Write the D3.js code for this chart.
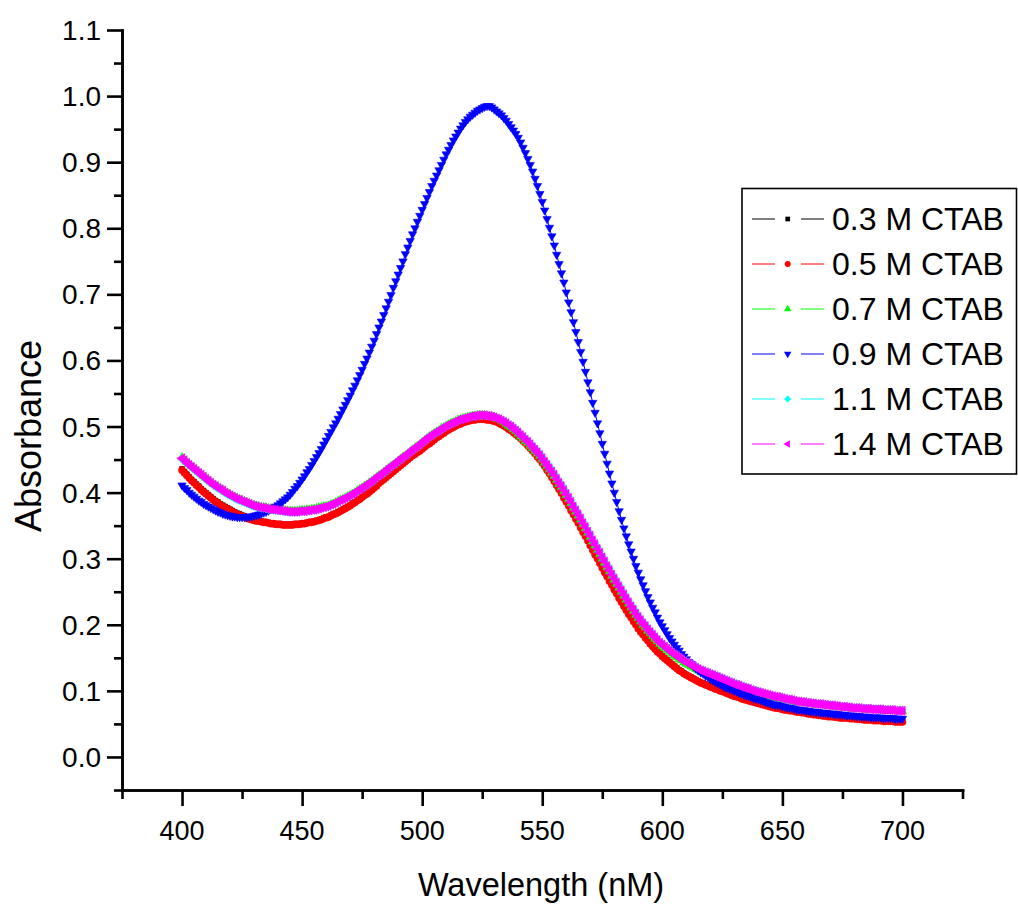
<!DOCTYPE html>
<html>
<head>
<meta charset="utf-8">
<script src="https://cdn.jsdelivr.net/npm/d3@7"></script>
<style>
  html, body { margin: 0; padding: 0; background: #fff; }
  svg { display: block; }
  text { font-family: "Liberation Sans", Arial, sans-serif; fill: #000; }
</style>
</head>
<body>
<svg id="chart" width="1018" height="909"></svg>
<script>
// UV-Vis spectra, 400–700 nm sampled every 1 nm
const wavelengths = d3.range(400, 701);

const abs03 = [
  0.436,0.432,0.428,0.424,0.420,0.417,0.413,0.410,0.406,0.403,
  0.400,0.397,0.394,0.391,0.388,0.386,0.383,0.381,0.379,0.377,
  0.375,0.373,0.371,0.369,0.368,0.366,0.365,0.363,0.362,0.361,
  0.360,0.359,0.358,0.357,0.356,0.356,0.355,0.354,0.354,0.353,
  0.353,0.353,0.352,0.352,0.352,0.352,0.352,0.353,0.353,0.353,
  0.354,0.354,0.355,0.356,0.356,0.357,0.358,0.359,0.360,0.362,
  0.363,0.364,0.366,0.368,0.369,0.371,0.373,0.375,0.377,0.379,
  0.381,0.384,0.386,0.389,0.391,0.394,0.397,0.399,0.402,0.405,
  0.408,0.411,0.415,0.418,0.421,0.424,0.427,0.430,0.433,0.436,
  0.439,0.442,0.445,0.448,0.451,0.454,0.457,0.459,0.462,0.464,
  0.467,0.470,0.473,0.475,0.478,0.481,0.484,0.486,0.489,0.491,
  0.494,0.496,0.498,0.500,0.502,0.504,0.505,0.507,0.508,0.509,
  0.510,0.511,0.511,0.512,0.512,0.512,0.512,0.511,0.511,0.510,
  0.509,0.508,0.506,0.504,0.502,0.500,0.497,0.495,0.492,0.489,
  0.486,0.483,0.479,0.476,0.472,0.468,0.464,0.460,0.455,0.451,
  0.446,0.441,0.435,0.430,0.424,0.418,0.412,0.406,0.400,0.393,
  0.387,0.381,0.374,0.368,0.361,0.355,0.348,0.341,0.335,0.328,
  0.321,0.314,0.307,0.301,0.294,0.287,0.280,0.274,0.267,0.261,
  0.254,0.248,0.241,0.235,0.229,0.223,0.217,0.212,0.206,0.201,
  0.195,0.190,0.186,0.181,0.177,0.172,0.168,0.164,0.160,0.157,
  0.153,0.150,0.147,0.144,0.141,0.138,0.135,0.132,0.130,0.127,
  0.125,0.123,0.121,0.119,0.117,0.115,0.113,0.112,0.110,0.109,
  0.107,0.106,0.104,0.103,0.101,0.100,0.099,0.097,0.096,0.094,
  0.093,0.092,0.091,0.089,0.088,0.087,0.086,0.085,0.084,0.083,
  0.082,0.081,0.080,0.079,0.078,0.077,0.076,0.075,0.075,0.074,
  0.073,0.072,0.072,0.071,0.071,0.070,0.069,0.069,0.068,0.068,
  0.067,0.066,0.066,0.065,0.065,0.064,0.064,0.063,0.063,0.062,
  0.062,0.062,0.061,0.061,0.060,0.060,0.060,0.060,0.059,0.059,
  0.059,0.058,0.058,0.058,0.057,0.057,0.057,0.057,0.056,0.056,
  0.056,0.056,0.055,0.055,0.055,0.055,0.055,0.054,0.054,0.054,
  0.054
];

const abs05 = [
  0.434,0.430,0.426,0.422,0.418,0.415,0.411,0.408,0.404,0.401,
  0.398,0.395,0.392,0.389,0.386,0.384,0.381,0.379,0.377,0.375,
  0.373,0.371,0.369,0.367,0.366,0.364,0.363,0.361,0.360,0.359,
  0.358,0.357,0.357,0.356,0.355,0.355,0.354,0.353,0.353,0.352,
  0.352,0.352,0.351,0.351,0.351,0.351,0.351,0.352,0.352,0.352,
  0.353,0.353,0.354,0.355,0.355,0.356,0.357,0.358,0.359,0.361,
  0.362,0.363,0.365,0.367,0.368,0.370,0.372,0.374,0.376,0.378,
  0.380,0.383,0.385,0.388,0.390,0.393,0.396,0.398,0.401,0.404,
  0.407,0.410,0.414,0.417,0.420,0.423,0.426,0.429,0.432,0.435,
  0.438,0.441,0.444,0.447,0.450,0.453,0.456,0.458,0.461,0.463,
  0.466,0.469,0.472,0.474,0.477,0.480,0.483,0.485,0.488,0.490,
  0.493,0.495,0.497,0.499,0.501,0.503,0.504,0.506,0.507,0.508,
  0.509,0.510,0.510,0.511,0.511,0.511,0.511,0.510,0.510,0.509,
  0.508,0.507,0.505,0.503,0.501,0.499,0.496,0.494,0.491,0.488,
  0.485,0.482,0.478,0.475,0.471,0.467,0.463,0.459,0.454,0.450,
  0.445,0.440,0.434,0.429,0.423,0.417,0.411,0.405,0.399,0.392,
  0.386,0.380,0.373,0.367,0.360,0.354,0.347,0.340,0.334,0.327,
  0.320,0.313,0.306,0.300,0.293,0.286,0.279,0.273,0.266,0.260,
  0.253,0.247,0.240,0.234,0.228,0.222,0.216,0.211,0.205,0.200,
  0.194,0.189,0.185,0.180,0.176,0.171,0.167,0.163,0.159,0.156,
  0.152,0.149,0.146,0.143,0.140,0.137,0.134,0.131,0.129,0.126,
  0.124,0.122,0.120,0.118,0.116,0.114,0.112,0.111,0.109,0.108,
  0.106,0.105,0.103,0.102,0.100,0.099,0.098,0.096,0.095,0.093,
  0.092,0.091,0.090,0.088,0.087,0.086,0.085,0.084,0.083,0.082,
  0.081,0.080,0.079,0.078,0.077,0.076,0.075,0.074,0.074,0.073,
  0.072,0.071,0.071,0.070,0.070,0.069,0.068,0.068,0.067,0.067,
  0.066,0.065,0.065,0.064,0.064,0.063,0.063,0.062,0.062,0.061,
  0.061,0.061,0.060,0.060,0.059,0.059,0.059,0.059,0.058,0.058,
  0.058,0.057,0.057,0.057,0.056,0.056,0.056,0.056,0.055,0.055,
  0.055,0.055,0.054,0.054,0.054,0.054,0.054,0.053,0.053,0.053,
  0.053
];

const abs07 = [
  0.453,0.450,0.446,0.443,0.440,0.437,0.434,0.431,0.428,0.425,
  0.422,0.419,0.416,0.413,0.411,0.408,0.406,0.404,0.401,0.399,
  0.397,0.395,0.393,0.391,0.390,0.388,0.387,0.385,0.384,0.382,
  0.381,0.380,0.379,0.378,0.378,0.377,0.376,0.376,0.375,0.375,
  0.374,0.374,0.373,0.373,0.372,0.372,0.372,0.372,0.372,0.373,
  0.373,0.373,0.374,0.374,0.375,0.375,0.376,0.377,0.378,0.379,
  0.379,0.380,0.382,0.383,0.385,0.387,0.389,0.390,0.392,0.394,
  0.396,0.398,0.400,0.403,0.405,0.407,0.410,0.412,0.415,0.417,
  0.420,0.423,0.426,0.428,0.431,0.434,0.437,0.440,0.442,0.445,
  0.448,0.451,0.454,0.456,0.459,0.462,0.465,0.468,0.470,0.473,
  0.476,0.479,0.482,0.485,0.487,0.490,0.492,0.494,0.497,0.499,
  0.501,0.503,0.505,0.506,0.508,0.510,0.511,0.512,0.513,0.514,
  0.515,0.516,0.516,0.517,0.517,0.517,0.517,0.516,0.516,0.515,
  0.514,0.512,0.511,0.509,0.507,0.504,0.501,0.499,0.496,0.493,
  0.489,0.485,0.482,0.478,0.475,0.471,0.467,0.463,0.459,0.455,
  0.450,0.445,0.440,0.435,0.430,0.425,0.419,0.413,0.408,0.402,
  0.396,0.390,0.384,0.377,0.371,0.365,0.359,0.352,0.346,0.339,
  0.333,0.326,0.320,0.313,0.307,0.300,0.294,0.287,0.281,0.274,
  0.268,0.262,0.256,0.250,0.244,0.238,0.232,0.226,0.221,0.215,
  0.210,0.205,0.200,0.196,0.191,0.187,0.183,0.179,0.175,0.171,
  0.168,0.165,0.162,0.159,0.156,0.153,0.151,0.148,0.146,0.143,
  0.141,0.139,0.137,0.135,0.133,0.131,0.129,0.128,0.126,0.125,
  0.123,0.122,0.120,0.119,0.117,0.116,0.114,0.113,0.111,0.110,
  0.108,0.107,0.106,0.104,0.103,0.102,0.101,0.099,0.098,0.097,
  0.096,0.095,0.094,0.093,0.092,0.091,0.090,0.089,0.089,0.088,
  0.088,0.087,0.086,0.086,0.085,0.084,0.083,0.083,0.082,0.082,
  0.081,0.081,0.080,0.080,0.079,0.079,0.079,0.078,0.078,0.077,
  0.077,0.077,0.076,0.076,0.075,0.075,0.075,0.074,0.074,0.073,
  0.073,0.073,0.073,0.072,0.072,0.072,0.072,0.071,0.071,0.071,
  0.071,0.071,0.070,0.070,0.070,0.070,0.070,0.069,0.069,0.069,
  0.069
];

const abs09 = [
  0.411,0.407,0.404,0.400,0.397,0.394,0.391,0.388,0.386,0.383,
  0.381,0.379,0.377,0.375,0.373,0.371,0.370,0.368,0.367,0.366,
  0.365,0.364,0.364,0.363,0.363,0.363,0.363,0.363,0.364,0.364,
  0.365,0.366,0.367,0.368,0.370,0.371,0.373,0.375,0.377,0.379,
  0.381,0.384,0.387,0.390,0.393,0.397,0.401,0.406,0.410,0.415,
  0.420,0.425,0.431,0.436,0.442,0.448,0.454,0.460,0.466,0.473,
  0.479,0.486,0.492,0.499,0.505,0.512,0.519,0.526,0.533,0.540,
  0.547,0.555,0.562,0.570,0.578,0.586,0.595,0.603,0.612,0.621,
  0.630,0.640,0.650,0.659,0.669,0.679,0.689,0.699,0.710,0.720,
  0.730,0.740,0.750,0.761,0.771,0.781,0.791,0.800,0.810,0.819,
  0.828,0.837,0.846,0.855,0.864,0.872,0.880,0.888,0.896,0.904,
  0.912,0.919,0.926,0.933,0.939,0.945,0.951,0.956,0.961,0.965,
  0.969,0.972,0.975,0.978,0.980,0.982,0.984,0.985,0.985,0.983,
  0.980,0.977,0.974,0.971,0.967,0.963,0.958,0.953,0.948,0.943,
  0.937,0.930,0.922,0.914,0.905,0.896,0.886,0.875,0.864,0.852,
  0.840,0.827,0.814,0.801,0.788,0.774,0.760,0.746,0.732,0.718,
  0.703,0.688,0.673,0.658,0.643,0.628,0.613,0.598,0.583,0.567,
  0.552,0.536,0.521,0.505,0.490,0.474,0.459,0.444,0.429,0.414,
  0.400,0.386,0.372,0.359,0.346,0.334,0.322,0.311,0.300,0.289,
  0.279,0.269,0.260,0.251,0.242,0.234,0.226,0.219,0.211,0.204,
  0.198,0.192,0.186,0.180,0.175,0.170,0.165,0.161,0.156,0.152,
  0.148,0.144,0.141,0.137,0.134,0.131,0.128,0.126,0.123,0.121,
  0.118,0.116,0.114,0.112,0.110,0.108,0.106,0.105,0.103,0.102,
  0.100,0.099,0.097,0.096,0.094,0.093,0.092,0.091,0.089,0.088,
  0.087,0.086,0.085,0.083,0.082,0.081,0.080,0.079,0.079,0.078,
  0.077,0.076,0.075,0.075,0.074,0.073,0.072,0.072,0.071,0.071,
  0.070,0.070,0.069,0.069,0.068,0.068,0.067,0.067,0.067,0.066,
  0.066,0.066,0.065,0.065,0.064,0.064,0.064,0.063,0.063,0.063,
  0.062,0.062,0.062,0.061,0.061,0.061,0.061,0.060,0.060,0.060,
  0.060,0.060,0.059,0.059,0.059,0.059,0.059,0.058,0.058,0.058,
  0.058
];

const abs11 = [
  0.451,0.448,0.444,0.441,0.438,0.435,0.432,0.429,0.426,0.423,
  0.420,0.417,0.414,0.411,0.409,0.406,0.404,0.402,0.399,0.397,
  0.395,0.393,0.391,0.389,0.388,0.386,0.385,0.383,0.382,0.380,
  0.379,0.378,0.377,0.376,0.376,0.375,0.374,0.374,0.373,0.373,
  0.372,0.372,0.371,0.371,0.370,0.370,0.370,0.370,0.370,0.371,
  0.371,0.371,0.372,0.372,0.373,0.373,0.374,0.375,0.376,0.377,
  0.378,0.379,0.381,0.382,0.384,0.386,0.388,0.389,0.391,0.393,
  0.395,0.397,0.399,0.402,0.404,0.406,0.409,0.411,0.414,0.416,
  0.419,0.422,0.425,0.427,0.430,0.433,0.436,0.439,0.441,0.444,
  0.447,0.450,0.453,0.455,0.458,0.461,0.464,0.467,0.469,0.472,
  0.475,0.478,0.481,0.484,0.486,0.489,0.491,0.493,0.496,0.498,
  0.500,0.502,0.504,0.505,0.507,0.509,0.510,0.511,0.512,0.513,
  0.514,0.515,0.515,0.516,0.516,0.516,0.516,0.516,0.516,0.515,
  0.514,0.513,0.512,0.510,0.508,0.506,0.504,0.502,0.499,0.496,
  0.493,0.489,0.486,0.482,0.479,0.475,0.471,0.467,0.463,0.459,
  0.454,0.449,0.444,0.439,0.434,0.429,0.423,0.417,0.412,0.406,
  0.400,0.394,0.388,0.381,0.375,0.369,0.363,0.356,0.350,0.343,
  0.337,0.330,0.324,0.317,0.311,0.304,0.298,0.291,0.285,0.278,
  0.272,0.266,0.260,0.254,0.248,0.242,0.236,0.230,0.225,0.219,
  0.214,0.209,0.204,0.200,0.195,0.191,0.187,0.183,0.179,0.175,
  0.172,0.169,0.166,0.163,0.160,0.157,0.155,0.152,0.150,0.147,
  0.145,0.143,0.141,0.139,0.137,0.135,0.133,0.132,0.130,0.129,
  0.127,0.126,0.124,0.123,0.121,0.120,0.118,0.117,0.115,0.114,
  0.112,0.111,0.110,0.108,0.107,0.106,0.105,0.103,0.102,0.101,
  0.100,0.099,0.097,0.096,0.095,0.094,0.093,0.092,0.092,0.091,
  0.090,0.089,0.088,0.088,0.087,0.086,0.085,0.085,0.084,0.084,
  0.083,0.083,0.082,0.082,0.081,0.081,0.081,0.080,0.080,0.079,
  0.079,0.079,0.078,0.078,0.077,0.077,0.077,0.076,0.076,0.075,
  0.075,0.075,0.075,0.074,0.074,0.074,0.074,0.073,0.073,0.073,
  0.073,0.073,0.072,0.072,0.072,0.072,0.072,0.071,0.071,0.071,
  0.071
];

const abs14 = [
  0.452,0.449,0.445,0.442,0.439,0.436,0.433,0.430,0.427,0.424,
  0.421,0.418,0.415,0.412,0.410,0.407,0.405,0.403,0.400,0.398,
  0.396,0.394,0.392,0.390,0.389,0.387,0.386,0.384,0.383,0.381,
  0.380,0.379,0.378,0.377,0.377,0.376,0.375,0.375,0.374,0.374,
  0.373,0.373,0.372,0.372,0.371,0.371,0.371,0.371,0.371,0.372,
  0.372,0.372,0.373,0.373,0.374,0.374,0.375,0.376,0.377,0.378,
  0.379,0.380,0.382,0.383,0.385,0.387,0.389,0.390,0.392,0.394,
  0.396,0.398,0.400,0.403,0.405,0.407,0.410,0.412,0.415,0.417,
  0.420,0.423,0.426,0.428,0.431,0.434,0.437,0.440,0.442,0.445,
  0.448,0.451,0.454,0.456,0.459,0.462,0.465,0.468,0.470,0.473,
  0.476,0.479,0.482,0.485,0.487,0.490,0.492,0.494,0.497,0.499,
  0.501,0.503,0.505,0.506,0.508,0.510,0.511,0.512,0.513,0.514,
  0.515,0.516,0.516,0.517,0.517,0.517,0.517,0.516,0.516,0.515,
  0.514,0.512,0.511,0.509,0.507,0.505,0.502,0.500,0.497,0.494,
  0.491,0.487,0.484,0.480,0.477,0.473,0.469,0.465,0.461,0.457,
  0.452,0.447,0.442,0.437,0.432,0.427,0.421,0.415,0.410,0.404,
  0.398,0.392,0.386,0.379,0.373,0.367,0.361,0.354,0.348,0.341,
  0.335,0.328,0.322,0.315,0.309,0.302,0.296,0.289,0.283,0.276,
  0.270,0.264,0.258,0.252,0.246,0.240,0.234,0.228,0.223,0.217,
  0.212,0.207,0.202,0.198,0.193,0.189,0.185,0.181,0.177,0.173,
  0.170,0.167,0.164,0.161,0.158,0.155,0.153,0.150,0.148,0.145,
  0.143,0.141,0.139,0.137,0.135,0.133,0.131,0.130,0.128,0.127,
  0.125,0.124,0.122,0.121,0.119,0.118,0.116,0.115,0.113,0.112,
  0.110,0.109,0.108,0.106,0.105,0.104,0.103,0.101,0.100,0.099,
  0.098,0.097,0.096,0.095,0.094,0.093,0.092,0.091,0.091,0.090,
  0.089,0.088,0.087,0.087,0.086,0.085,0.084,0.084,0.083,0.083,
  0.082,0.082,0.081,0.081,0.080,0.080,0.080,0.079,0.079,0.078,
  0.078,0.078,0.077,0.077,0.076,0.076,0.076,0.075,0.075,0.074,
  0.074,0.074,0.074,0.073,0.073,0.073,0.073,0.072,0.072,0.072,
  0.072,0.072,0.071,0.071,0.071,0.071,0.071,0.070,0.070,0.070,
  0.070
];

const seriesNames  = ["0.3 M CTAB", "0.5 M CTAB", "0.7 M CTAB", "0.9 M CTAB", "1.1 M CTAB", "1.4 M CTAB"];
const seriesValues = [abs03, abs05, abs07, abs09, abs11, abs14];
const seriesColors = ["#000000", "#ff0000", "#00ff00", "#0000ff", "#00ffff", "#ff00ff"];

const xMajorTicks = [400, 450, 500, 550, 600, 650, 700];
const xMinorTicks = [375, 425, 475, 525, 575, 625, 675, 725];
const yMajorTicks = [0.0, 0.1, 0.2, 0.3, 0.4, 0.5, 0.6, 0.7, 0.8, 0.9, 1.0, 1.1];
const yMinorTicks = [-0.05, 0.05, 0.15, 0.25, 0.35, 0.45, 0.55, 0.65, 0.75, 0.85, 0.95, 1.05];

const xTitle = "Wavelength (nM)";
const yTitle = "Absorbance";

// marker shapes per series (square, circle, up-triangle, down-triangle, diamond, left-triangle)
const markerShapes = [
  { type: d3.symbolSquare,   plotSize: 22, legendSize: 22, rotate: 0 },
  { type: d3.symbolCircle,   plotSize: 40, legendSize: 28, rotate: 0 },
  { type: d3.symbolTriangle, plotSize: 32, legendSize: 24, rotate: 0 },
  { type: d3.symbolTriangle, plotSize: 30, legendSize: 24, rotate: 180 },
  { type: d3.symbolSquare,   plotSize: 30, legendSize: 26, rotate: 45 },
  { type: d3.symbolTriangle, plotSize: 36, legendSize: 24, rotate: -90 }
];

const svg = d3.select("#chart");

const x = d3.scaleLinear().domain([375, 725]).range([122, 962.5]);
const y = d3.scaleLinear().domain([-0.05, 1.1]).range([790, 30]);

const axisStroke = 2.6;

// ---- axes ----
function styleAxis(g) {
  g.selectAll("path.domain").attr("stroke", "#000").attr("stroke-width", axisStroke);
  g.selectAll(".tick line").attr("stroke", "#000").attr("stroke-width", axisStroke);
  g.selectAll(".tick text").remove();
}

svg.append("g")
  .attr("transform", "translate(0,790)")
  .call(d3.axisBottom(x).tickValues(xMinorTicks).tickSize(9).tickSizeOuter(0).tickFormat(""))
  .call(styleAxis);
svg.append("g")
  .attr("transform", "translate(0,790)")
  .call(d3.axisBottom(x).tickValues(xMajorTicks).tickSize(16).tickSizeOuter(0).tickFormat(""))
  .call(styleAxis);

svg.append("g")
  .attr("transform", "translate(122,0)")
  .call(d3.axisLeft(y).tickValues(yMinorTicks).tickSize(8).tickSizeOuter(0).tickFormat(""))
  .call(styleAxis);
svg.append("g")
  .attr("transform", "translate(122,0)")
  .call(d3.axisLeft(y).tickValues(yMajorTicks).tickSize(15).tickSizeOuter(0).tickFormat(""))
  .call(styleAxis);

svg.selectAll("path.domain").attr("stroke-linecap", "square");

// tick labels
svg.append("g").selectAll("text")
  .data(xMajorTicks).join("text")
  .attr("x", d => x(d))
  .attr("y", 840)
  .attr("text-anchor", "middle")
  .style("font-size", "27px")
  .text(d => d);

svg.append("g").selectAll("text")
  .data(yMajorTicks).join("text")
  .attr("x", 101)
  .attr("y", d => y(d) + 10)
  .attr("text-anchor", "end")
  .style("font-size", "28px")
  .text(d => d3.format(".1f")(d));

// axis titles
svg.append("text")
  .attr("x", 541)
  .attr("y", 896)
  .attr("text-anchor", "middle")
  .style("font-size", "32.5px")
  .text(xTitle);

svg.append("text")
  .attr("transform", "translate(41,436) rotate(-90)")
  .attr("text-anchor", "middle")
  .style("font-size", "36px")
  .text(yTitle);

// ---- spectra ----
const line = d3.line()
  .x((d, i) => x(wavelengths[i]))
  .y(d => y(d));

const plot = svg.append("g");
seriesValues.forEach((vals, s) => {
  const shape = markerShapes[s];
  const g = plot.append("g");
  g.append("path")
    .attr("d", line(vals))
    .attr("fill", "none")
    .attr("stroke", seriesColors[s])
    .attr("stroke-width", 1);
  const sym = d3.symbol().type(shape.type).size(shape.plotSize);
  g.selectAll("path.mk")
    .data(vals).join("path")
    .attr("class", "mk")
    .attr("d", sym)
    .attr("transform", (d, i) => `translate(${x(wavelengths[i])},${y(d)}) rotate(${shape.rotate})`)
    .attr("fill", seriesColors[s])
    .attr("stroke", seriesColors[s])
    .attr("stroke-width", 0.6);
});

// ---- legend ----
const legend = svg.append("g");
legend.append("rect")
  .attr("x", 742).attr("y", 188.5)
  .attr("width", 274.5).attr("height", 285.5)
  .attr("fill", "#fff")
  .attr("stroke", "#000")
  .attr("stroke-width", 1.6);

seriesNames.forEach((name, s) => {
  const cy = 219 + s * 45;
  const shape = markerShapes[s];
  const row = legend.append("g");
  row.append("line")
    .attr("x1", 752).attr("x2", 775).attr("y1", cy).attr("y2", cy)
    .attr("stroke", seriesColors[s]).attr("stroke-width", 1);
  row.append("line")
    .attr("x1", 801).attr("x2", 824).attr("y1", cy).attr("y2", cy)
    .attr("stroke", seriesColors[s]).attr("stroke-width", 1);
  row.append("path")
    .attr("d", d3.symbol().type(shape.type).size(shape.legendSize)())
    .attr("transform", `translate(787.7,${cy}) rotate(${shape.rotate})`)
    .attr("fill", seriesColors[s]);
  row.append("text")
    .attr("x", 832)
    .attr("y", cy + 11)
    .style("font-size", "32px")
    .text(name);
});
</script>
</body>
</html>
